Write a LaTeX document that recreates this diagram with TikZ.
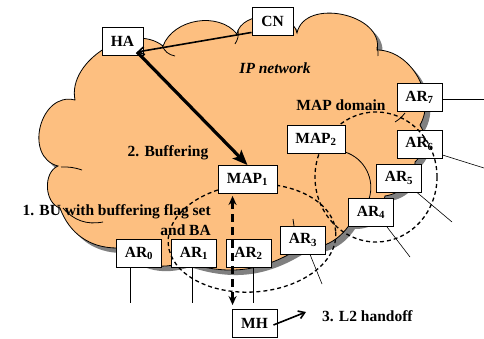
\documentclass[tikz,border=0pt]{standalone}
\usepackage{fontspec}
\setmainfont{Liberation Serif}
\usetikzlibrary{arrows.meta, calc}
\definecolor{cloudorange}{RGB}{253, 191, 128}
\definecolor{cloudshade}{RGB}{128, 128, 128}
\tikzset{
  netbox/.style={rectangle, draw=black, fill=white, line width=0.9pt,
                 minimum width=#1, minimum height=28pt, inner sep=0pt,
                 font=\fontsize{15.5}{18}\selectfont\bfseries},
  netbox/.default=45pt,
  lbl/.style={inner sep=0pt, font=\fontsize{15.5}{19.5}\selectfont\bfseries},
  cloudline/.style={line width=0.8pt},
  antenna/.style={line width=0.6pt},
  dashring/.style={line width=1.3pt, dash pattern=on 4pt off 3pt},
  bigarrow/.style={-{Stealth[length=15pt, width=12pt, inset=3pt]}, line width=3.2pt},
  thinarrow/.style={-{Straight Barb[length=6pt, width=8pt]}, line width=1.6pt},
  dasharrow/.style={{Stealth[length=9pt, width=8pt]}-{Stealth[length=9pt, width=8pt]},
                    line width=2.8pt, dash pattern=on 8pt off 5pt},
}
% outline of the IP network cloud, screen coordinates
\newcommand{\cloudoutline}{(75,100) to[bend left=70] (163,46)
  to[bend left=60] (237,34) to[bend left=80] (297,33)
  to[bend left=90, looseness=1.15] (377,50) to[bend left=60] (420,125)
  to[bend left=40] (415,162) to[bend left=40] (385,196)
  to[bend left=40] (350,224) to[bend left=30] (300,248)
  to[bend left=25] (185,262) to[bend left=30] (117,248)
  to[bend left=35] (60,208) to[bend left=70] (58,166)
  to[bend left=90, looseness=1.35] (75,100) -- cycle}

\begin{document}
\begin{tikzpicture}[x=1pt, y=-1pt]
  \useasboundingbox (0,0) rectangle (484,339);

  % cloud with shadow
  \fill[cloudshade, shift={(5,5)}] \cloudoutline;
  \filldraw[fill=cloudorange, draw=black, cloudline] \cloudoutline;
  \draw[cloudline] (162,45) to[bend right=30] (175,56);
  \draw[cloudline] (238,30) to[bend left=20] (235,44);
  \draw[cloudline] (377,47) to[bend left=10] (378,56);
  \draw[cloudline] (405,113) to[bend left=10] (395,122);
  \draw[cloudline] (293,219) -- (294,226);
  \draw[cloudline] (345,152) to[bend left=45] (369,199);
  \draw[cloudline] (61,167) to[bend left=10] (82,170);
  \draw[cloudline] (63,208) to[bend right=30] (103,222);

  % access routers
  \node[netbox] (AR0) at (139,253.5) {AR\textsubscript{0}};
  \node[netbox] (AR1) at (194,253.5) {AR\textsubscript{1}};
  \node[netbox] (AR2) at (248.5,253.5) {AR\textsubscript{2}};
  \node[netbox] (AR3) at (303,240) {AR\textsubscript{3}};
  \node[netbox] (AR4) at (371,212.5) {AR\textsubscript{4}};
  \node[netbox] (AR5) at (399,178) {AR\textsubscript{5}};
  \node[netbox] (AR6) at (419.5,144) {AR\textsubscript{6}};
  \node[netbox] (AR7) at (419.5,97.5) {AR\textsubscript{7}};

  \coordinate (a0) at (130,303);
  \coordinate (a1) at (192,303);
  \coordinate (a2) at (253,303);
  \coordinate (a3) at (322,284);
  \coordinate (a4) at (410,257);
  \coordinate (a5) at (452,222);
  \coordinate (a6) at (484,168);
  \coordinate (a7) at (484,99);
  \draw[antenna] ([xshift=-9pt]AR0.south) -- (a0);
  \draw[antenna] ([xshift=-2pt]AR1.south) -- (a1);
  \draw[antenna] ([xshift=4.5pt]AR2.south) -- (a2);
  \draw[antenna] ([xshift=7pt]AR3.south) -- (a3);
  \draw[antenna] ([xshift=16pt]AR4.south) -- (a4);
  \draw[antenna] ([xshift=18pt]AR5.south) -- (a5);
  \draw[antenna] ([yshift=-11pt]AR6.east) -- (a6);
  \draw[antenna] ([yshift=-1.5pt]AR7.east) -- (a7);

  % MAP domains
  \draw[dashring, rotate around={4:(252,238)}] (252,238) ellipse [x radius=84, y radius=54];
  \draw[dashring] (376,177) ellipse [x radius=61, y radius=65];

  \node[netbox=59pt] (MAP1) at (247.5,179.5) {MAP\textsubscript{1}};
  \node[netbox=58pt] (MAP2) at (316,139) {MAP\textsubscript{2}};
  \node[netbox=41pt] (HA) at (122.5,41.5) {HA};
  \node[netbox=41pt] (CN) at (272.5,21) {CN};
  \node[netbox] (MH) at (254.5,323.5) {MH};

  % signalling
  \coordinate (hatip) at (137,52);
  \coordinate (hotip) at (306,312);
  \draw[thinarrow] ([yshift=3pt]CN.south west) -- (hatip);
  \draw[bigarrow] (hatip) -- (MAP1.north);
  \draw[dasharrow, shorten <=2pt, shorten >=4pt] ([xshift=15pt]MAP1.south west) -- ([xshift=1pt]MH.north west);
  \draw[thinarrow] ([xshift=-4pt, yshift=-1.5pt]MH.east) -- (hotip);

  % labels
  \node[lbl, font=\fontsize{15.5}{19.5}\selectfont\bfseries\itshape] (ipnet) at (275,68) {IP network};
  \node[lbl] (mapdom) at (341,105) {MAP domain};
  \node[lbl] (buf) at (168,153) {2. Buffering};
  \node[lbl, anchor=east, align=right] (bu) at (211,220) {1. BU with buffering flag set\\and BA};
  \node[lbl, anchor=west] (ho) at (322,316) {3. L2 handoff};
\end{tikzpicture}
\end{document}
